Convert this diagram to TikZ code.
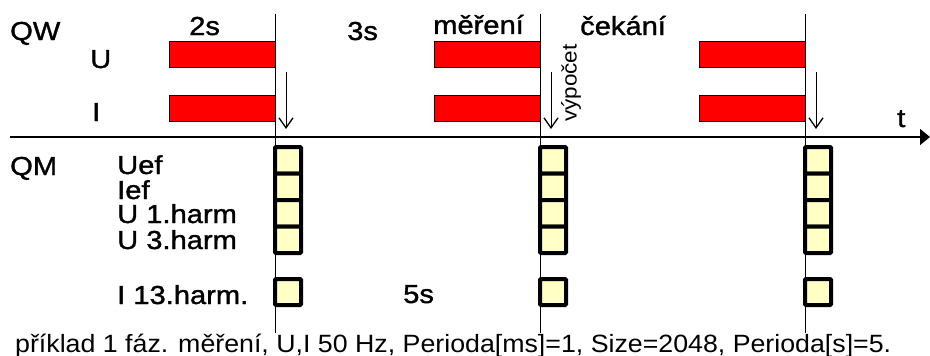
\documentclass[tikz,border=0pt]{standalone}
\usepackage{fontspec}
\setmainfont{Liberation Sans}
\newfontfamily\lblfont[FakeStretch=1.12,FakeBold=1.3]{Liberation Sans}
\newfontfamily\capfont[FakeStretch=1.07]{Liberation Sans}
\usetikzlibrary{arrows.meta}
\definecolor{cellyellow}{HTML}{FFFFC6}
\tikzset{
  lbl/.style={anchor=base west, inner sep=0pt, font=\lblfont\fontsize{26}{26}\selectfont},
  bar/.style={draw=black, fill=red},
  cell/.style={draw=black, line width=4pt, fill=cellyellow, rounded corners=1pt},
  calc/.style={line width=1pt, -{Straight Barb[length=10pt,width=14pt,line width=1.3pt]}},
}
\begin{document}
\begin{tikzpicture}[x=1pt,y=-1pt]
  \useasboundingbox (0,0) rectangle (930,356);

  % time axis
  \coordinate (t0) at (10,137);
  \coordinate (t1) at (930,137);
  \draw[line width=1.6pt, -{Triangle[length=10pt,width=16pt]}] (t0) -- (t1);

  % periods
  \foreach \c [count=\i] in {275,540,805} {
    \draw[bar] (\c-106,41) rectangle (\c,67);
    \draw[bar] (\c-106,95) rectangle (\c,121);
    \draw (\c,14) -- (\c,333);
    \coordinate (top\i) at (\c+11,72);
    \coordinate (bot\i) at (\c+11,129);
    \draw[calc] (top\i) -- (bot\i);
    \foreach \k in {0,...,3}
      \draw[cell] (\c,{147+26.5*\k}) rectangle +(26,26.5);
    \draw[cell] (\c,279) rectangle +(26,26);
  }

  % labels
  \node[lbl] (qw) at (10,40) {QW};
  \node[lbl] (u) at (90,68) {U};
  \node[lbl] (i) at (92,121) {I};
  \node[lbl] (two) at (189,35) {2s};
  \node[lbl] (three) at (347,40) {3s};
  \node[lbl] (mer) at (433,34) {měření};
  \node[lbl] (cek) at (580,35) {čekání};
  \node[lbl] (t) at (897,127) {t};
  \node[rotate=90, inner sep=0pt, font=\capfont\fontsize{21}{21}\selectfont] (vyp) at (571,83) {výpočet};

  \node[lbl] (qm) at (10,175) {QM};
  \node[lbl] (uef) at (117,174) {Uef};
  \node[lbl] (ief) at (117,199) {Ief};
  \node[lbl] (uh1) at (117,223) {U 1.harm};
  \node[lbl] (uh3) at (117,249) {U 3.harm};
  \node[lbl] (ih13) at (117,304) {I 13.harm.};
  \node[lbl] (five) at (403,303) {5s};

  \node[anchor=base west, inner sep=0pt, font=\capfont\fontsize{25}{25}\selectfont] (cap) at (15,352)
    {příklad 1 fáz. měření, U,I 50 Hz, Perioda[ms]=1, Size=2048, Perioda[s]=5.};
\end{tikzpicture}
\end{document}
